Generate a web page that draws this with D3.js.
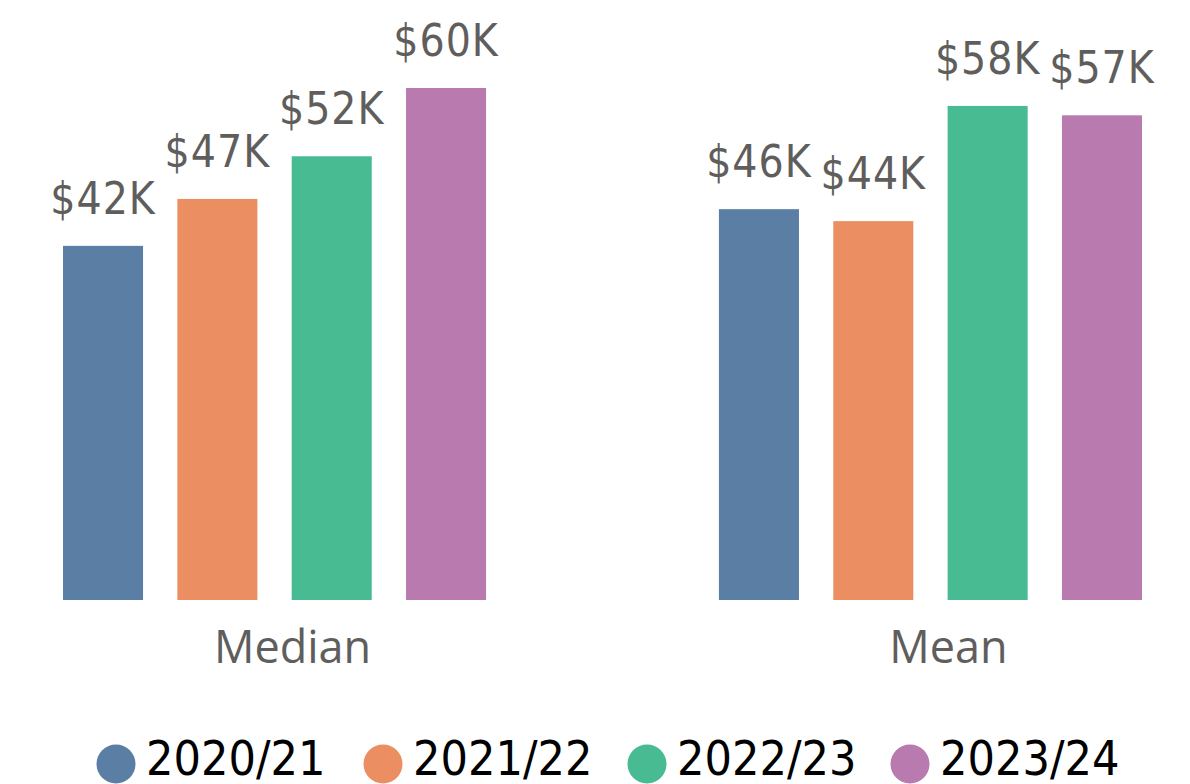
<!DOCTYPE html>
<html>
<head>
<meta charset="utf-8">
<script src="https://cdn.jsdelivr.net/npm/d3@7"></script>
<style>
  html, body { margin: 0; padding: 0; background: #ffffff; }
  svg { display: block; }
  .dl { font-family: "DejaVu Sans Condensed", "DejaVu Sans", sans-serif; font-stretch: condensed; }
  .cat { font-family: "Open Sans", "Noto Sans", sans-serif; }
</style>
</head>
<body>
<svg id="chart" width="1190" height="784"></svg>
<script>
const categories = ["Median", "Mean"];
const years = ["2020/21", "2021/22", "2022/23", "2023/24"];
const values2020 = [41.5, 45.8];
const values2021 = [47.0, 44.4];
const values2022 = [52.0, 57.9];
const values2023 = [60.0, 56.8];
const seriesValues = [values2020, values2021, values2022, values2023];
const colors = ["#5b7fa4", "#eb8f63", "#48bb93", "#b97aaf"];

const svg = d3.select("#chart");

const x0 = d3.scaleBand().domain(categories).range([63, 1142]).paddingInner(0.355).paddingOuter(0);
const x1 = d3.scaleBand().domain(years).range([0, x0.bandwidth()]).paddingInner(0.30).paddingOuter(0);
const y = d3.scaleLinear().domain([0, 60]).range([600, 88]);

const fmt = v => "$" + Math.round(v) + "K";

const rows = [];
categories.forEach((c, ci) => {
  years.forEach((yr, yi) => rows.push({ cat: c, year: yr, yi, value: seriesValues[yi][ci] }));
});

const g = svg.append("g");
g.selectAll("rect.bar").data(rows).join("rect")
  .attr("class", "bar")
  .attr("x", d => x0(d.cat) + x1(d.year))
  .attr("y", d => y(d.value))
  .attr("width", x1.bandwidth())
  .attr("height", d => y(0) - y(d.value))
  .attr("fill", d => colors[d.yi]);

g.selectAll("text.dl").data(rows).join("text")
  .attr("class", "dl")
  .attr("x", d => x0(d.cat) + x1(d.year) + x1.bandwidth() / 2)
  .attr("y", d => y(d.value) - 32)
  .attr("text-anchor", "middle")
  .attr("font-size", 44)
  .attr("letter-spacing", 1)
  .attr("fill", "#605e5c")
  .text(d => fmt(d.value));

// category axis labels
const xAxis = d3.axisBottom(x0).tickSize(0).tickPadding(0);
const ax = svg.append("g").attr("transform", "translate(18,0)").call(xAxis);
ax.select(".domain").remove();
ax.selectAll("text")
  .attr("class", "cat")
  .attr("y", 663)
  .attr("dy", 0)
  .attr("font-size", 45)
  .attr("fill", "#605e5c");

// legend
const legendX = [116, 383, 647, 910];
const leg = svg.append("g").selectAll("g").data(years).join("g")
  .attr("transform", (d, i) => `translate(${legendX[i]},0)`);
leg.append("circle").attr("cx", 0).attr("cy", 764).attr("r", 19.5).attr("fill", (d, i) => colors[i]);
leg.append("text")
  .attr("class", "dl")
  .attr("x", 30)
  .attr("y", 775)
  .attr("font-size", 48)
  .attr("fill", "#000000")
  .text(d => d);
</script>
</body>
</html>
